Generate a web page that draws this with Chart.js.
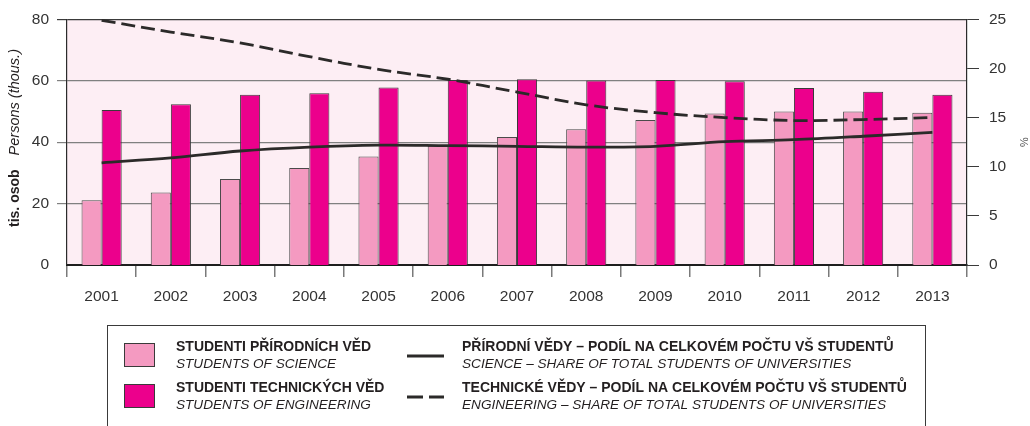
<!DOCTYPE html>
<html>
<head>
<meta charset="utf-8">
<script src="https://cdn.jsdelivr.net/npm/chart.js@4.4.1/dist/chart.umd.min.js"></script>
<style>
  html, body { margin: 0; padding: 0; background: #ffffff; }
  #wrap { width: 1030px; height: 426px; position: relative; }
</style>
</head>
<body>
<div id="wrap"><canvas id="chart" width="1030" height="426"></canvas></div>
<script>
// Years on the category axis
const years = ['2001','2002','2003','2004','2005','2006','2007','2008','2009','2010','2011','2012','2013'];

// Students (thousands)
const scienceStudents     = [21.1, 23.6, 28.0, 31.6, 35.3, 38.8, 41.7, 44.2, 47.2, 49.3, 50.0, 50.0, 49.6];
const engineeringStudents = [50.5, 52.3, 55.4, 55.9, 57.8, 60.2, 60.5, 60.1, 60.2, 59.8, 57.6, 56.4, 55.4];

// Share of all university students (%)
const scienceShare     = [10.4, 10.9, 11.6, 12.0, 12.2, 12.15, 12.08, 12.0, 12.08, 12.55, 12.75, 13.1, 13.5];
const engineeringShare = [24.9, 23.7, 22.6, 21.2, 19.9, 18.9, 17.6, 16.3, 15.5, 15.0, 14.7, 14.8, 15.0];

// Axis tick values
const leftTicks  = [0, 20, 40, 60, 80];
const rightTicks = [0, 5, 10, 15, 20, 25];

// Legend texts (Czech / English)
const legendLabels = [
  ['STUDENTI PŘÍRODNÍCH VĚD', 'STUDENTS OF SCIENCE'],
  ['STUDENTI TECHNICKÝCH VĚD', 'STUDENTS OF ENGINEERING'],
  ['PŘÍRODNÍ VĚDY – PODÍL NA CELKOVÉM POČTU VŠ STUDENTŮ', 'SCIENCE – SHARE OF TOTAL STUDENTS OF UNIVERSITIES'],
  ['TECHNICKÉ VĚDY – PODÍL NA CELKOVÉM POČTU VŠ STUDENTŮ', 'ENGINEERING – SHARE OF TOTAL STUDENTS OF UNIVERSITIES']
];

const FONT = '"Liberation Sans", Arial, Helvetica, sans-serif';
const DARK = '#2b2a29';
const TEXT = '#333333';
const PINK_LIGHT = '#f49ac1';
const MAGENTA = '#ec008c';
const PLOT_BG = '#fdeef4';
const DASH = [14, 6];

// Pink panel behind the plot area
const plotBackground = {
  id: 'plotBackground',
  beforeDraw(chart) {
    const { ctx, chartArea: a } = chart;
    ctx.save();
    ctx.fillStyle = PLOT_BG;
    ctx.fillRect(a.left, a.top, a.right - a.left, a.bottom - a.top);
    ctx.restore();
  }
};

// Two-style rotated title of the left axis
const leftTitle = {
  id: 'leftTitle',
  afterDraw(chart) {
    const { ctx } = chart;
    const boldPart = 'tis. osob';
    const italicPart = 'Persons (thous.)';
    const gap = 14;
    const boldFont = 'bold 14px ' + FONT;
    const italicFont = 'italic 14.5px ' + FONT;
    ctx.save();
    ctx.fillStyle = '#231f20';
    ctx.textBaseline = 'middle';
    ctx.font = boldFont;
    const w1 = ctx.measureText(boldPart).width;
    ctx.font = italicFont;
    const w2 = ctx.measureText(italicPart).width;
    const total = w1 + gap + w2;
    ctx.translate(15, 138);
    ctx.rotate(-Math.PI / 2);
    ctx.textAlign = 'left';
    ctx.font = boldFont;
    ctx.fillText(boldPart, -total / 2, 0);
    ctx.font = italicFont;
    ctx.fillText(italicPart, -total / 2 + w1 + gap, 0);
    ctx.restore();
  }
};

// Boxed legend under the chart with bilingual labels
const boxedLegend = {
  id: 'boxedLegend',
  afterDraw(chart) {
    const { ctx } = chart;
    ctx.save();
    ctx.strokeStyle = '#3a3a3a';
    ctx.lineWidth = 1;
    ctx.strokeRect(107.5, 325.5, 818, 120);

    const rows = [347, 388];
    const colX = [176, 462];

    // bar swatches
    const swatchFill = [PINK_LIGHT, MAGENTA];
    rows.forEach((ry, i) => {
      ctx.fillStyle = swatchFill[i];
      ctx.fillRect(124, ry - 4, 31, 24);
      ctx.strokeStyle = '#3a3a3a';
      ctx.strokeRect(124.5, ry - 3.5, 30, 23);
    });

    // line swatches
    ctx.strokeStyle = DARK;
    ctx.lineWidth = 2.8;
    ctx.beginPath();
    ctx.moveTo(407, rows[0] + 9);
    ctx.lineTo(444, rows[0] + 9);
    ctx.stroke();
    ctx.setLineDash([16, 6]);
    ctx.beginPath();
    ctx.moveTo(407, rows[1] + 9);
    ctx.lineTo(444, rows[1] + 9);
    ctx.stroke();
    ctx.setLineDash([]);

    ctx.fillStyle = '#231f20';
    ctx.textAlign = 'left';
    ctx.textBaseline = 'middle';
    legendLabels.forEach((pair, i) => {
      const x = colX[Math.floor(i / 2)];
      const y = rows[i % 2];
      ctx.font = 'bold 14px ' + FONT;
      ctx.fillText(pair[0], x, y);
      ctx.font = 'italic 13.6px ' + FONT;
      ctx.fillText(pair[1], x, y + 17);
    });
    ctx.restore();
  }
};

new Chart(document.getElementById('chart'), {
  data: {
    labels: years,
    datasets: [
      {
        type: 'line', label: legendLabels[2][0], data: scienceShare, yAxisID: 'y1', order: 0,
        borderColor: DARK, borderWidth: 2.8, tension: 0.35, pointRadius: 0, fill: false
      },
      {
        type: 'line', label: legendLabels[3][0], data: engineeringShare, yAxisID: 'y1', order: 0,
        borderColor: DARK, borderWidth: 2.8, borderDash: DASH, tension: 0.35, pointRadius: 0, fill: false
      },
      {
        type: 'bar', label: legendLabels[0][0], data: scienceStudents, yAxisID: 'y', order: 1,
        backgroundColor: PINK_LIGHT, borderColor: '#4a4a4a', borderWidth: 1,
        barPercentage: 1.0, categoryPercentage: 0.58
      },
      {
        type: 'bar', label: legendLabels[1][0], data: engineeringStudents, yAxisID: 'y', order: 1,
        backgroundColor: MAGENTA, borderColor: '#3a3a3a', borderWidth: 1,
        barPercentage: 1.0, categoryPercentage: 0.58
      }
    ]
  },
  options: {
    responsive: false,
    animation: false,
    devicePixelRatio: 1,
    layout: { padding: { top: 15, left: 0, right: 0, bottom: 0 } },
    plugins: { legend: { display: false }, tooltip: { enabled: false } },
    scales: {
      x: {
        type: 'category',
        offset: true,
        grid: { offset: true, drawOnChartArea: false, drawTicks: true, tickLength: 12, color: '#7a7a7a', lineWidth: 1.5 },
        border: { color: '#1e1e1e', width: 2 },
        ticks: { color: TEXT, font: { family: FONT, size: 15.5 }, padding: 10, maxRotation: 0 },
        afterFit(scale) { scale.height = 161; }
      },
      y: {
        position: 'left',
        min: 0, max: 80,
        afterBuildTicks(scale) { scale.ticks = leftTicks.map(v => ({ value: v })); },
        grid: {
          drawTicks: true, tickLength: 10,
          color: ctx => (ctx.tick && ctx.tick.value === 80) ? '#3a3a3a' : '#808080',
          lineWidth: ctx => (ctx.tick && ctx.tick.value === 0) ? 0 : 1.2
        },
        border: { color: '#2b2b2b', width: 1.2 },
        ticks: { color: TEXT, font: { family: FONT, size: 15.5 }, padding: 8 },
        afterFit(scale) { scale.width = 67; }
      },
      y1: {
        position: 'right',
        min: 0, max: 25,
        afterBuildTicks(scale) { scale.ticks = rightTicks.map(v => ({ value: v })); },
        grid: { drawOnChartArea: false, drawTicks: true, tickLength: 12, color: '#3a3a3a', lineWidth: 1 },
        border: { color: '#2b2b2b', width: 1.2 },
        ticks: { color: TEXT, font: { family: FONT, size: 15.5 }, padding: 10 },
        title: { display: true, text: '%', color: '#555555', font: { family: FONT, size: 11 }, padding: { top: 0, bottom: 0 } },
        afterFit(scale) { scale.width = 63; }
      }
    }
  },
  plugins: [plotBackground, leftTitle, boxedLegend]
});
</script>
</body>
</html>
